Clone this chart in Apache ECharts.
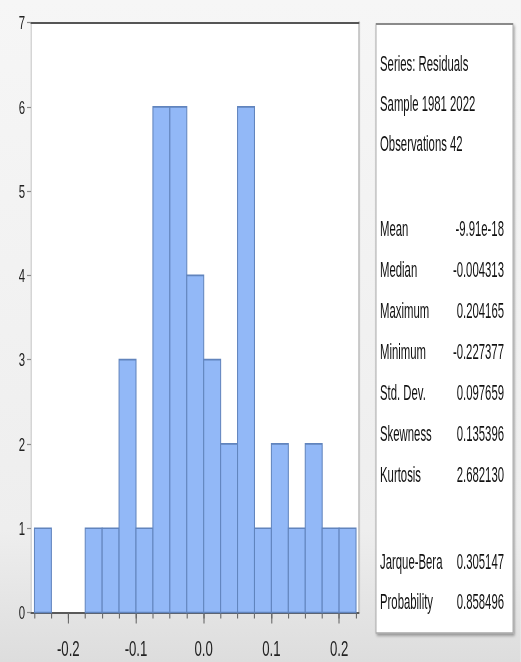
<!DOCTYPE html>
<html>
<head>
<meta charset="utf-8">
<script src="https://cdn.jsdelivr.net/npm/echarts@6/dist/echarts.min.js"></script>
<style>
html,body{margin:0;padding:0;overflow:hidden;background:#f0f0f0;}
#c{width:868.33px;height:662px;transform:scaleX(0.6);transform-origin:0 0;}
</style>
</head>
<body>
<div id="c"></div>
<script>
// ---- data ----
const binLow  = [-0.25,-0.225,-0.2,-0.175,-0.15,-0.125,-0.1,-0.075,-0.05,-0.025,0.0,0.025,0.05,0.075,0.1,0.125,0.15,0.175,0.2];
const binHigh = [-0.225,-0.2,-0.175,-0.15,-0.125,-0.1,-0.075,-0.05,-0.025,0.0,0.025,0.05,0.075,0.1,0.125,0.15,0.175,0.2,0.225];
const counts  = [1,0,0,1,1,3,1,6,6,4,3,2,6,1,2,1,2,1,1];
const xTickValues = [-0.2,-0.1,0.0,0.1,0.2];
const yTickValues = [0,1,2,3,4,5,6,7];
const headerLines = ['Series: Residuals','Sample 1981 2022','Observations 42'];
const statLabels1 = ['Mean','Median','Maximum','Minimum','Std. Dev.','Skewness','Kurtosis'];
const statValues1 = ['-9.91e-18','-0.004313','0.204165','-0.227377','0.097659','0.135396','2.682130'];
const statLabels2 = ['Jarque-Bera','Probability'];
const statValues2 = ['0.305147','0.858496'];

// ---- layout ----
const SX = 0.6;               // horizontal compression applied by CSS
const X = v => v / SX;        // convert screen px -> chart px
const FONT = '"Liberation Sans", Arial, sans-serif';
const NARROW = '"Liberation Sans Narrow", "Arial Narrow", "Liberation Sans", sans-serif';
const binEdges = binLow.concat([binHigh[binHigh.length - 1]]);
const barData = binLow.map((lo, i) => [lo, binHigh[i], counts[i]]);

const graphics = [];
// stats box
graphics.push({
  type: 'rect', z: 10,
  shape: { x: X(376), y: 24, width: X(513) - X(376), height: 609 },
  style: { fill: '#ffffff', stroke: '#a8a8a8', lineWidth: 1.6,
           shadowColor: 'rgba(0,0,0,0.35)', shadowBlur: 3, shadowOffsetX: 2, shadowOffsetY: 2 }
});
graphics.push({
  type: 'line', z: 11,
  shape: { x1: X(376), y1: 24, x2: X(513), y2: 24 },
  style: { stroke: '#8a8a8a', lineWidth: 2 }
});
function addText(txt, x, y, align) {
  graphics.push({
    type: 'text', z: 12, x: x, y: y, scaleX: 0.88, originX: 0, originY: 0,
    style: { text: txt, fill: '#111111', font: '21.5px ' + FONT, align: align, verticalAlign: 'middle' }
  });
}
headerLines.forEach((t, i) => addText(t, X(380), 63 + i * 40, 'left'));
statLabels1.forEach((t, i) => {
  addText(t, X(380), 228 + i * 41, 'left');
  addText(statValues1[i], X(504), 228 + i * 41, 'right');
});
statLabels2.forEach((t, i) => {
  addText(t, X(380), 561 + i * 40, 'left');
  addText(statValues2[i], X(504), 561 + i * 40, 'right');
});

const chart = echarts.init(document.getElementById('c'), null, { renderer: 'svg' });
chart.setOption({
  animation: false,
  backgroundColor: {
    type: 'linear', x: 0, y: 0, x2: 0, y2: 1,
    colorStops: [
      { offset: 0, color: '#f6f6f6' },
      { offset: 0.8, color: '#eeeeee' },
      { offset: 1, color: '#dddddd' }
    ]
  },
  grid: {
    left: X(31), right: 868.33 - X(359), top: 22.6, bottom: 662 - 612.5,
    show: true, backgroundColor: '#ffffff', borderWidth: 0
  },
  xAxis: [
    {
      type: 'value', min: -0.2551, max: 0.2291, position: 'bottom',
      axisLine: { show: true, onZero: false, lineStyle: { color: '#5a5a5a', width: 2 } },
      axisTick: { show: true, customValues: xTickValues, length: 11, lineStyle: { color: '#606060', width: 1.7 } },
      axisLabel: { customValues: xTickValues, formatter: v => v.toFixed(1), margin: 25,
                   fontSize: 22, fontFamily: NARROW, color: '#222222' },
      splitLine: { show: false }
    },
    {
      type: 'value', min: -0.2551, max: 0.2291, position: 'bottom',
      axisLine: { show: false },
      axisTick: { show: true, customValues: binEdges, length: 6, lineStyle: { color: '#606060', width: 1.7 } },
      axisLabel: { show: false },
      splitLine: { show: false }
    },
    {
      type: 'value', min: -0.2551, max: 0.2291, position: 'top',
      axisLine: { show: true, onZero: false, lineStyle: { color: '#555555', width: 2 } },
      axisTick: { show: false }, axisLabel: { show: false }, splitLine: { show: false }
    }
  ],
  yAxis: [
    {
      type: 'value', min: 0, max: 7, interval: 1, position: 'left',
      axisLine: { show: true, onZero: false, lineStyle: { color: '#c4c4c4', width: 1.7 } },
      axisTick: { show: true, customValues: yTickValues, length: X(4), lineStyle: { color: '#8a8a8a', width: 1.2 } },
      axisLabel: { customValues: yTickValues, margin: 10, fontSize: 19, fontFamily: NARROW, color: '#222222' },
      splitLine: { show: false }
    },
    {
      type: 'value', min: 0, max: 7, position: 'right',
      axisLine: { show: true, onZero: false, lineStyle: { color: '#c8c8c8', width: 3.4 } },
      axisTick: { show: false }, axisLabel: { show: false }, splitLine: { show: false }
    }
  ],
  series: [{
    type: 'custom',
    xAxisIndex: 0, yAxisIndex: 0,
    data: barData,
    encode: { x: [0, 1], y: 2 },
    renderItem: function (params, api) {
      if (api.value(2) <= 0) return null;
      const p0 = api.coord([api.value(0), api.value(2)]);
      const p1 = api.coord([api.value(1), 0]);
      return {
        type: 'rect',
        shape: { x: p0[0], y: p0[1], width: p1[0] - p0[0], height: p1[1] - p0[1] },
        style: { fill: '#92b8f7', stroke: '#6184bd', lineWidth: 1.7 }
      };
    },
    z: 2
  }],
  graphic: graphics
});
</script>
</body>
</html>
